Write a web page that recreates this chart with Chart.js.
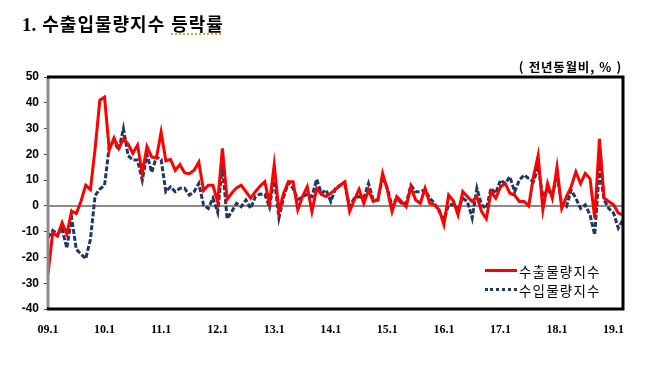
<!DOCTYPE html>
<html lang="ko">
<head>
<meta charset="utf-8">
<script src="https://cdn.jsdelivr.net/npm/chart.js@4.4.1/dist/chart.umd.min.js"></script>
<style>
    body { margin: 0; background: #fff; }
    #wrap { position: relative; width: 654px; height: 366px; }
    #title {
        position: absolute; left: 22px; top: 10px; line-height: 18px;
        font: bold 18px "Noto Sans CJK KR"; letter-spacing: 1px; color: #000; white-space: nowrap;
    }
    #title .num { font-family: "Liberation Serif"; font-size: 19px; letter-spacing: 0; }
    #title .sq { text-decoration: underline dotted #c8a040; text-underline-offset: 3px; }
    #unit {
        position: absolute; right: 32px; top: 57px; line-height: 14px;
        font: bold 12.5px "Noto Sans CJK KR"; letter-spacing: 0.8px; color: #000; white-space: nowrap;
    }
    #legend { position: absolute; left: 485px; top: 261px; font: 13.5px "Noto Sans CJK KR"; letter-spacing: 1.2px; color: #000; }
    #legend .row { display: flex; align-items: center; height: 19px; white-space: nowrap; }
    #legend .mark { width: 32px; height: 0; margin-right: 2px; }
</style>
</head>
<body>
<div id="wrap">
    <canvas id="chart" width="654" height="366"></canvas>
    <div id="title"><span class="num">1.</span> 수출입물량지수 <span class="sq">등락률</span></div>
    <div id="unit">( 전년동월비, % )</div>
    <div id="legend"></div>
</div>
<script>
// monthly, 2009.1 ~ 2019.3
const startYear = 2009;
const monthCount = 123;
const tickLabels = ["09.1", "10.1", "11.1", "12.1", "13.1", "14.1", "15.1", "16.1", "17.1", "18.1", "19.1"];

const exportVolume = [
    -26.5, -10.4, -11.7, -6.5, -11, -2, -3, 1.8, 8, 6.3, 22.3, 41,
    42.2, 21.7, 26.4, 22.3, 26, 24, 20.4, 23.6, 12.7, 23, 19, 18.5,
    28.6, 17.5, 18, 13.8, 16, 12.8, 12.5, 13.8, 17, 6, 8, 8,
    1.5, 22.3, 2.5, 5, 7, 8, 5.5, 3, 5.5, 7.7, 9.4, 1,
    16, -2.2, 4.9, 9.4, 9.4, -1.5, 3.6, 7.4, -2.2, 6.8, 4.5, 3.6,
    4.9, 6.4, 8, 9.4, -2.2, 2.3, 6.4, 1, 6.2, 1.7, 2.3, 12.6,
    6.2, -2.2, 3.6, 1.7, -0.3, 7.4, 2.3, 1, 6.8, 1, 0.4, -1.5,
    -7.3, 4.2, 2, -3.5, 5.5, 3.6, 1.7, 3.6, -2.2, -5, 5.5, 3,
    7.4, 8.7, 4.9, 4.2, 1.7, 1.7, 0, 11.3, 19.6, -1.5, 8.7, 3,
    15, -1, 3.6, 7.4, 13.2, 8.7, 12.6, 10.6, -4.7, 26, 3, 1.7,
    0.4, -2.8, -3.5
];
const importVolume = [
    -12.3, -9.5, -11, -9, -16.4, -4.5, -16.8, -18.7, -20.5, -13, 4, 6.5,
    8, 23, 25, 21.7, 30, 19.5, 17.8, 17.8, 10, 20, 13, 19,
    18, 5.5, 7.4, 5.5, 6.8, 6.8, 4.2, 5.5, 8.7, 0.4, -1, 3,
    -2.5, 16, -5, -2.2, 1, -0.3, 2.3, -1, 3.6, 4.6, 4.5, -0.5,
    11, -4.7, 3.5, 9, 6.8, 2.5, 3.5, 4.5, 3.6, 10.3, 4.9, 6.2,
    1.7, 6.8, 8, 8, -0.3, 3, 3.6, 3, 8.7, 2.3, 2.3, 11.3,
    6.8, -0.3, 3, 1, 1, 8, 5.5, 5.5, 6.2, 3, 1, -2.2,
    -5.4, 0.4, 0.5, -1, 3, 1.7, -4.7, 6.8, 0.4, -1, 6.8, 4.9,
    10, 8.7, 11.3, 5.5, 10, 12, 10.6, 9.4, 15, 3.6, 6.2, 4.2,
    12, 0.4, -0.3, 6.2, 3, -1, 0.4, -3.5, -11.2, 14.5, 2.3, -1,
    -2.8, -8.6, -5.4
];

const categories = [];
for (let i = 0; i < monthCount; i++) {
    categories.push((startYear + Math.floor(i / 12)) + "." + (i % 12 + 1));
}

const framePlugin = {
    id: "frame",
    beforeDatasetsDraw(chart) {
        const ctx = chart.ctx, a = chart.chartArea;
        const zy = chart.scales.y.getPixelForValue(0);
        ctx.save();
        ctx.strokeStyle = "#8a8a8a";
        ctx.lineWidth = 2;
        ctx.beginPath();
        ctx.moveTo(a.left, zy);
        ctx.lineTo(a.right, zy);
        ctx.stroke();
        ctx.restore();
    },
    afterDatasetsDraw(chart) {
        const ctx = chart.ctx, a = chart.chartArea;
        ctx.save();
        ctx.lineWidth = 3;
        ctx.strokeStyle = "#8a8a8a";
        ctx.beginPath();
        ctx.moveTo(a.left, a.top);
        ctx.lineTo(a.left, a.bottom);
        ctx.stroke();
        ctx.strokeStyle = "#000";
        ctx.beginPath();
        ctx.moveTo(a.left - 1, a.top);
        ctx.lineTo(a.right, a.top);
        ctx.lineTo(a.right, a.bottom);
        ctx.lineTo(a.left - 1, a.bottom);
        ctx.stroke();
        ctx.restore();
    }
};

const chart = new Chart(document.getElementById("chart"), {
    type: "line",
    data: {
        labels: categories,
        datasets: [
            {
                label: "수출물량지수",
                data: exportVolume,
                borderColor: "#ff0000",
                borderWidth: 3,
                pointRadius: 0,
                tension: 0
            },
            {
                label: "수입물량지수",
                data: importVolume,
                borderColor: "#1f3864",
                borderWidth: 3,
                borderDash: [5, 2],
                pointRadius: 0,
                tension: 0
            }
        ]
    },
    options: {
        responsive: false,
        animation: false,
        layout: { padding: { top: 77, right: 31, left: 0, bottom: 0 } },
        plugins: {
            legend: { display: false },
            tooltip: { enabled: false }
        },
        scales: {
            x: {
                offset: false,
                grid: { display: false },
                border: { display: false },
                afterFit: scale => { scale.height = 57; },
                ticks: {
                    autoSkip: false,
                    maxRotation: 0,
                    padding: 6,
                    color: "#000",
                    font: { family: "Liberation Serif", size: 12, weight: "bold" },
                    callback: function (value, index) {
                        return index % 12 === 0 ? tickLabels[index / 12] : "";
                    }
                }
            },
            y: {
                min: -40,
                max: 50,
                afterFit: scale => { scale.width = 48; },
                grid: { drawOnChartArea: false, drawTicks: true, tickLength: 4, color: "#444" },
                border: { display: false },
                ticks: {
                    stepSize: 10,
                    padding: 5,
                    color: "#000",
                    font: { family: "Liberation Sans", size: 12, weight: "bold" }
                }
            }
        }
    },
    plugins: [framePlugin]
});

// legend in plot area, bottom right
const legendBox = document.getElementById("legend");
legendBox.innerHTML = chart.data.datasets.map(ds => {
    const style = ds.borderDash
        ? `border-top: 3px dotted ${ds.borderColor};`
        : `border-top: 3px solid ${ds.borderColor};`;
    return `<div class="row"><span class="mark" style="${style}"></span>${ds.label}</div>`;
}).join("");
</script>
</body>
</html>
